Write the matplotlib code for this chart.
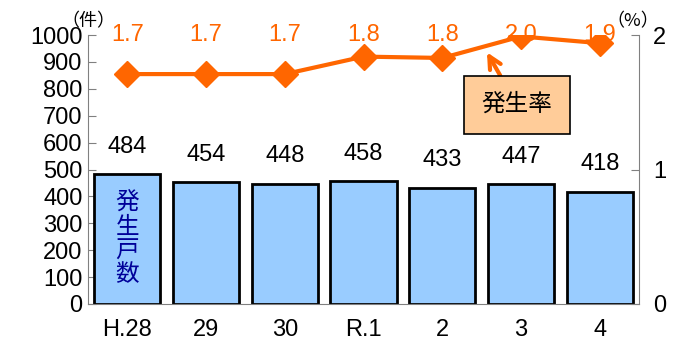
import numpy as np
import matplotlib
matplotlib.use('Agg')
import matplotlib.pyplot as plt

plt.rcParams['font.family'] = ['Liberation Sans', 'Noto Sans CJK JP']

# data
years = ['H.28', '29', '30', 'R.1', '2', '3', '4']
households = [484, 454, 448, 458, 433, 447, 418]
rate = [1.71, 1.71, 1.71, 1.84, 1.83, 1.99, 1.94]

orange = '#FF6600'
axis_grey = '#808080'

fig = plt.figure(figsize=(6.77, 3.51), dpi=100)
ax = fig.add_axes([0.130, 0.134, 0.814, 0.766])
x = np.arange(len(years))

# bars
ax.bar(x, households, width=0.84, color='#99CCFF', edgecolor='black', linewidth=2, zorder=2)
for xi, v in zip(x, households):
    ax.text(xi, v + 60, str(v), ha='center', va='bottom', fontsize=17)

ax.set_xlim(-0.5, len(years) - 0.5)
ax.set_ylim(0, 1000)
ax.set_yticks(np.arange(0, 1001, 100))
ax.tick_params(axis='y', direction='in', length=6, color=axis_grey, labelsize=17, pad=4)
ax.set_xticks(x)
ax.set_xticklabels(years, fontsize=17)
ax.tick_params(axis='x', length=0, pad=11)
for s in ['top', 'right']:
    ax.spines[s].set_visible(False)
ax.spines['left'].set_color(axis_grey)
ax.spines['bottom'].set_color(axis_grey)

# vertical label inside first bar
ax.text(0, 240, '\n'.join('発生戸数'), ha='center', va='center', color='#000099',
        fontsize=17, linespacing=1.1, zorder=3)

# rate line on right axis
ax2 = ax.twinx()
ax2.plot(x, rate, color=orange, linewidth=3, marker='D', markersize=13, zorder=3)
ax2.set_ylim(0, 2)
ax2.set_yticks([0, 1, 2])
ax2.tick_params(axis='y', direction='in', length=6, color=axis_grey, labelsize=17, pad=10)
for s in ['top', 'left', 'bottom']:
    ax2.spines[s].set_visible(False)
ax2.spines['right'].set_color(axis_grey)
for xi, r in zip(x, rate):
    ax2.text(xi, 2.0, f'{r:.1f}', ha='center', va='center', color=orange, fontsize=17)

# units
fig.text(0.131, 0.94, '（件）', ha='center', va='center', fontsize=13,
         family=['Noto Sans CJK JP'])
fig.text(0.935, 0.94, '（%）', ha='center', va='center', fontsize=13,
         family=['Noto Sans CJK JP'])

# annotation box
ax2.annotate('発生率', xy=(4.55, 1.89), xytext=(4.95, 1.48),
             ha='center', va='center', fontsize=17,
             bbox=dict(boxstyle='square,pad=0.75', fc='#FFCC99', ec='black', lw=1.2),
             arrowprops=dict(arrowstyle='->', color=orange, lw=3, mutation_scale=22,
                             shrinkA=0, shrinkB=2))

fig.savefig('out.png', dpi=100)
